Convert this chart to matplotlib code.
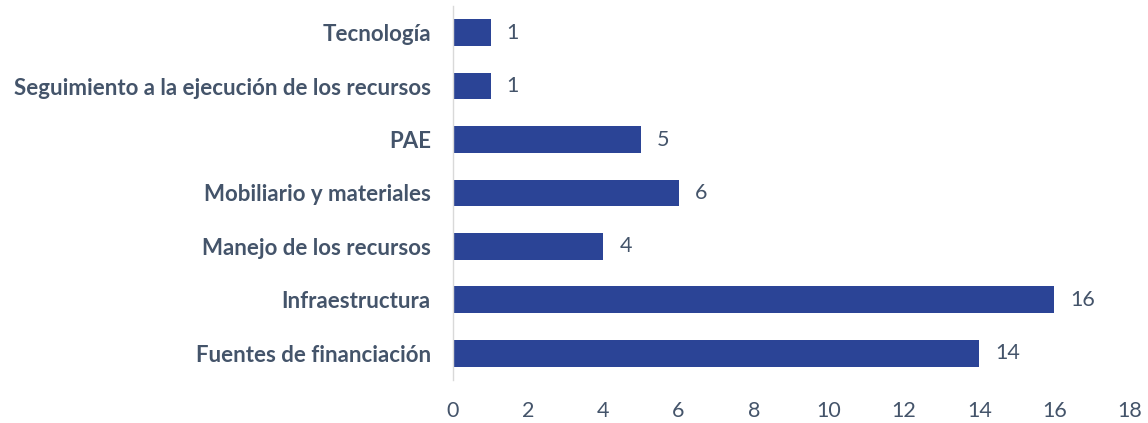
import matplotlib
matplotlib.use("Agg")
import matplotlib.pyplot as plt

categories = ["Fuentes de financiación", "Infraestructura", "Manejo de los recursos",
              "Mobiliario y materiales", "PAE", "Seguimiento a la ejecución de los recursos",
              "Tecnología"]
values = [14, 16, 4, 6, 5, 1, 1]
xticks = [0, 2, 4, 6, 8, 10, 12, 14, 16, 18]

bar_color = "#2B4496"
text_color = "#44546A"

fig = plt.figure(figsize=(11.48, 4.23), dpi=100)
ax = fig.add_axes([0.3946, 0.1017, 0.5894, 0.8843])

y = list(range(len(categories)))
ax.barh(y, values, height=0.5, color=bar_color)
ax.set_ylim(-0.5, len(categories) - 0.5)
ax.set_xlim(0, 18)
ax.set_yticks(y)
ax.set_yticklabels(categories, fontfamily="Lato", fontweight="bold", fontsize=16, color=text_color)
ax.set_xticks(xticks)
ax.set_xticklabels([str(t) for t in xticks], fontfamily="Lato", fontsize=15.5, color=text_color)
ax.tick_params(axis="both", length=0)
ax.tick_params(axis="y", pad=16)
ax.tick_params(axis="x", pad=15)

for s in ["top", "right", "bottom"]:
    ax.spines[s].set_visible(False)
ax.spines["left"].set_color("#D9D9D9")
ax.spines["left"].set_linewidth(1.0)

for yi, v in zip(y, values):
    ax.annotate(str(v), (v, yi), xytext=(16, 0), textcoords="offset pixels",
                va="center", ha="left", fontfamily="Lato", fontsize=15.5, color=text_color)

fig.savefig("out.png", dpi=100)
